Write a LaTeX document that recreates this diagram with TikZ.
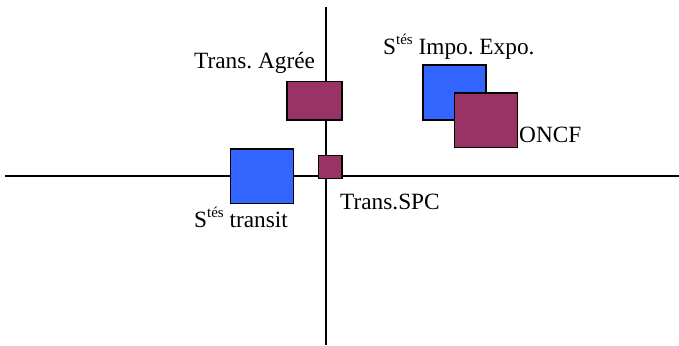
\documentclass[tikz,border=0pt]{standalone}
\usepackage{fontspec}
\setmainfont{Liberation Serif}
\definecolor{boxblue}{HTML}{3366FF}
\definecolor{boxplum}{HTML}{993366}
\newcommand{\stes}{S\raisebox{0.43em}{\fontsize{15}{15}\selectfont tés}}
\frenchspacing
\begin{document}
\begin{tikzpicture}[x=1pt,y=-1pt,
  axis/.style={line width=1.5pt,black},
  blk/.style={draw=black,line width=1.5pt,inner sep=0pt,outer sep=0pt},
  bluebox/.style={blk,fill=boxblue},
  plumbox/.style={blk,fill=boxplum},
  lbl/.style={inner sep=0pt,anchor=base west,font=\fontsize{23.3}{27}\selectfont}]
\useasboundingbox (0,0) rectangle (679,345);
% axes
\coordinate (xl) at (5,176);
\coordinate (xr) at (679,176);
\coordinate (yt) at (326,7);
\coordinate (yb) at (326,345);
\draw[axis] (xl) -- (xr);
\draw[axis] (yt) -- (yb);
% boxes
\node[plumbox,minimum width=55pt,minimum height=38.5pt] (agree) at (314.3,100.7) {};
\node[plumbox,minimum width=23.5pt,minimum height=23pt] (spc) at (330.2,167) {};
\node[bluebox,minimum width=63pt,minimum height=54.5pt] (transit) at (262.2,176.4) {};
\node[bluebox,minimum width=63pt,minimum height=55pt] (impo) at (454.5,92.5) {};
\node[plumbox,minimum width=63pt,minimum height=54.5pt] (oncf) at (486.2,120.3) {};
% labels
\node[lbl] (lagree) at (194,68) {Trans. Agrée};
\node[lbl] (limpo) at (383,55) {\stes{} Impo. Expo.};
\node[lbl] (loncf) at (519,142) {ONCF};
\node[lbl] (ltransit) at (194,227.5) {\stes{} transit};
\node[lbl] (lspc) at (340,209) {Trans.SPC};
\end{tikzpicture}
\end{document}
